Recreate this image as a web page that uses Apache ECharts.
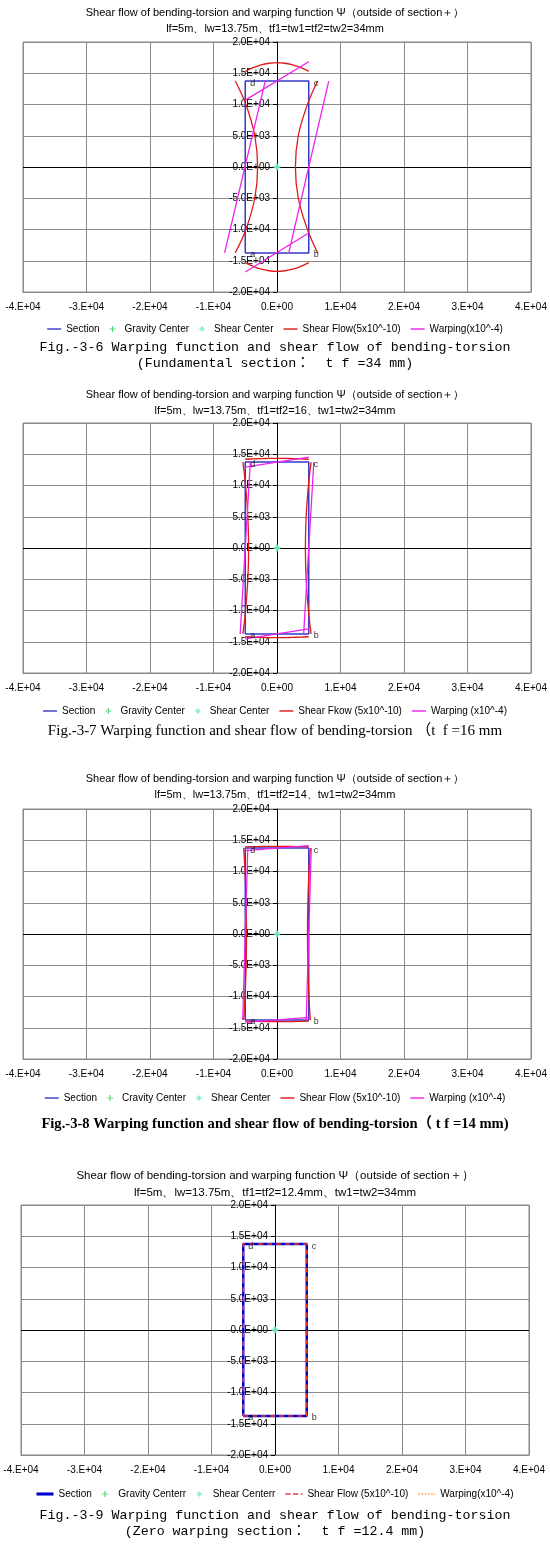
<!DOCTYPE html>
<html><head><meta charset="utf-8">
<script src="https://cdn.jsdelivr.net/npm/echarts@6/dist/echarts.min.js"></script>
<style>html,body{margin:0;padding:0;background:#fff}#c{width:550px;height:1560px}</style>
</head><body><div id="c"></div>
<script>
// ---------- axes ----------
const xMin = -40000, xMax = 40000, xStep = 10000;
const yMin = -20000, yMax = 20000, yStep = 5000;
const xTickLabels = ['-4.E+04','-3.E+04','-2.E+04','-1.E+04','0.E+00','1.E+04','2.E+04','3.E+04','4.E+04'];
const yTickLabels = ['-2.0E+04','-1.5E+04','-1.0E+04','-5.0E+03','0.0E+00','5.0E+03','1.0E+04','1.5E+04','2.0E+04'];

// ---------- section (same for all figures) ----------
const sectionX = [-5000, 5000, 5000, -5000, -5000];
const sectionY = [-13750, -13750, 13750, 13750, -13750];
const cornerLabels = ['a', 'b', 'c', 'd'];
const cornerX = [-5000, 5000, 5000, -5000];
const cornerY = [-13750, -13750, 13750, 13750];
const gravityX = [0], gravityY = [0];
const shearCX = [0], shearCY = [0];

// sample positions along flanges (x) and webs (y)
const flangeX = [-5000, -3750, -2500, -1250, 0, 1250, 2500, 3750, 5000];
const webY = [-13750, -10000, -5000, 0, 5000, 10000, 13750];
const lineFlangeX = [-5000, 5000];
const lineWebY = [-13750, 13750];

// ---------- Fig 3-6 (tf = 34) ----------
const sf1Top    = [15300, 15900, 16350, 16600, 16700, 16600, 16350, 15900, 15300];
const sf1Bottom = [-15300, -15900, -16350, -16600, -16700, -16600, -16350, -15900, -15300];
const sf1Left   = [-6580, -4900, -3500, -3050, -3500, -4900, -6580];
const sf1Right  = [6400, 4800, 3350, 2900, 3350, 4800, 6400];
const wp1Top    = [10700, 16850];
const wp1Bottom = [-16800, -10550];
const wp1Left   = [-8250, -1850];
const wp1Right  = [1850, 8150];

// ---------- Fig 3-7 (tf = 16) ----------
const sf2Top    = [14200, 14260, 14300, 14330, 14340, 14330, 14300, 14260, 14200];
const sf2Bottom = [-14200, -14260, -14300, -14330, -14340, -14330, -14300, -14260, -14200];
const sf2Left   = [-5370, -4950, -4590, -4470, -4590, -4950, -5370];
const sf2Right  = [5370, 4950, 4590, 4470, 4590, 4950, 5370];
const wp2Top    = [12950, 14550];
const wp2Bottom = [-14550, -12950];
const wp2Left   = [-5800, -4200];
const wp2Right  = [4200, 5800];

// ---------- Fig 3-8 (tf = 14) ----------
const sf3Top    = [13950, 13980, 14000, 14010, 14020, 14010, 14000, 13980, 13950];
const sf3Bottom = [-13950, -13980, -14000, -14010, -14020, -14010, -14000, -13980, -13950];
const sf3Left   = [-5250, -5030, -4860, -4800, -4860, -5030, -5250];
const sf3Right  = [5250, 5030, 4860, 4800, 4860, 5030, 5250];
const wp3Top    = [13350, 14150];
const wp3Bottom = [-14150, -13350];
const wp3Left   = [-5400, -4600];
const wp3Right  = [4600, 5400];

// ---------- Fig 3-9 (tf = 12.4, zero warping) ----------
const sf4X = [-5000, 5000, 5000, -5000, -5000];
const sf4Y = [-13750, -13750, 13750, 13750, -13750];
const wp4X = [-5000, 5000, 5000, -5000, -5000];
const wp4Y = [-13750, -13750, 13750, 13750, -13750];

// ---------- texts ----------
const titleMain = 'Shear flow of bending-torsion and warping function Ψ（outside of section＋）';
const subTitles = [
  'lf=5m、lw=13.75m、tf1=tw1=tf2=tw2=34mm',
  'lf=5m、lw=13.75m、tf1=tf2=16、tw1=tw2=34mm',
  'lf=5m、lw=13.75m、tf1=tf2=14、tw1=tw2=34mm',
  'lf=5m、lw=13.75m、tf1=tf2=12.4mm、tw1=tw2=34mm'
];
const captions = [
  'Fig.-3-6 Warping function and shear flow of bending-torsion\n(Fundamental section：  t f =34 mm)',
  'Fig.-3-7 Warping function and shear flow of bending-torsion （t  f =16 mm',
  'Fig.-3-8 Warping function and shear flow of bending-torsion（ t f =14 mm)',
  'Fig.-3-9 Warping function and shear flow of bending-torsion\n(Zero warping section：  t f =12.4 mm)'
];
const legendNames = [
  ['Section', 'Gravity Center', 'Shear Center', 'Shear Flow(5x10^-10)', 'Warping(x10^-4)'],
  ['Section', 'Gravity Center', 'Shear Center', 'Shear Fkow (5x10^-10)', 'Warping (x10^-4)'],
  ['Section', 'Cravity Center', 'Shear Center', 'Shear Flow (5x10^-10)', 'Warping (x10^-4)'],
  ['Section', 'Gravity Centerr', 'Shear Centerr', 'Shear Flow (5x10^-10)', 'Warping(x10^-4)']
];

// ---------- layout ----------
const layout = [
  {gl: 23, gt: 42,   title: 7,    legend: 324,  cap: 339, capFont: 'mono'},
  {gl: 23, gt: 423,  title: 389,  legend: 706,  cap: 723, capFont: 'serif'},
  {gl: 23, gt: 809,  title: 773,  legend: 1093, cap: 1116, capFont: 'serifb'},
  {gl: 21, gt: 1205, title: 1170, legend: 1489, cap: 1507, capFont: 'mono'}
];
const GW = 508, GH = 250;

function pairs(xs, ys) { return xs.map((x, i) => [x, ys[i]]); }
function joinSegs(list) {
  const out = [];
  list.forEach((s, i) => { if (i) out.push(['-', '-']); s.forEach(p => out.push(p)); });
  return out;
}
const sfData = [
  joinSegs([pairs(flangeX, sf1Top), pairs(sf1Right, webY), pairs(flangeX, sf1Bottom), pairs(sf1Left, webY)]),
  joinSegs([pairs(flangeX, sf2Top), pairs(sf2Right, webY), pairs(flangeX, sf2Bottom), pairs(sf2Left, webY)]),
  joinSegs([pairs(flangeX, sf3Top), pairs(sf3Right, webY), pairs(flangeX, sf3Bottom), pairs(sf3Left, webY)]),
  pairs(sf4X, sf4Y)
];
const wpData = [
  joinSegs([pairs(lineFlangeX, wp1Top), pairs(wp1Right, lineWebY), pairs(lineFlangeX, wp1Bottom), pairs(wp1Left, lineWebY)]),
  joinSegs([pairs(lineFlangeX, wp2Top), pairs(wp2Right, lineWebY), pairs(lineFlangeX, wp2Bottom), pairs(wp2Left, lineWebY)]),
  joinSegs([pairs(lineFlangeX, wp3Top), pairs(wp3Right, lineWebY), pairs(lineFlangeX, wp3Bottom), pairs(wp3Left, lineWebY)]),
  pairs(wp4X, wp4Y)
];

const SANS = '"Liberation Sans", Arial, sans-serif';
const MONO = '"Liberation Mono", "DejaVu Sans Mono", "Noto Sans CJK JP", monospace';
const SERIF = '"Liberation Serif", "DejaVu Serif", "Noto Sans CJK JP", serif';
const plusPath = 'path://M4,0H6V4H10V6H6V10H4V6H0V4H4Z';
const diamondPath = 'path://M5,0L10,5L5,10L0,5Z';
const lineIcon = 'path://M0,0H20V2H0Z';
const thickLineIcon = 'path://M0,0H20V3.6H0Z';
const dashIcon = 'path://M0,0H6V2H0Z M9,0H15V2H9Z M18,0H20V2H18Z';
const dotIcon = 'path://M0,0H2V2H0Z M4,0H6V2H4Z M8,0H10V2H8Z M12,0H14V2H12Z M16,0H18V2H16Z M20,0H21V2H20Z';

const grids = [], xAxes = [], yAxes = [], titles = [], legends = [], series = [];
layout.forEach((L, i) => {
  const thick = i === 3;
  grids.push({left: L.gl, top: L.gt, width: GW, height: GH, containLabel: false, outerBoundsMode: 'none',
    show: true, borderColor: '#8a8a8a', borderWidth: 1, backgroundColor: '#fff'});
  xAxes.push({
    type: 'value', gridIndex: i, min: xMin, max: xMax, interval: xStep,
    axisLine: {onZero: false, lineStyle: {color: '#8a8a8a'}},
    axisTick: {show: false},
    axisLabel: {fontSize: 10, color: '#000', fontFamily: SANS, margin: 10, showMinLabel: true, showMaxLabel: true,
      formatter: v => xTickLabels[Math.round((v - xMin) / xStep)]},
    splitLine: {lineStyle: {color: '#8a8a8a', width: 1}}
  });
  yAxes.push({
    type: 'value', gridIndex: i, min: yMin, max: yMax, interval: yStep, position: 'left', offset: -GW / 2,
    axisLine: {onZero: false, lineStyle: {color: '#000', width: 1}},
    axisTick: {show: true, length: 4, lineStyle: {color: '#000'}},
    axisLabel: {fontSize: 10, color: '#000', fontFamily: SANS, margin: 7, showMinLabel: true, showMaxLabel: true,
      formatter: v => yTickLabels[Math.round((v - yMin) / yStep)]},
    splitLine: {lineStyle: {color: '#8a8a8a', width: 1}}
  });
  titles.push({
    text: titleMain, subtext: subTitles[i], left: 'center', top: L.title, padding: 0, itemGap: 5,
    textStyle: {fontSize: thick ? 11.5 : 11, fontWeight: 'normal', color: '#000', fontFamily: SANS},
    subtextStyle: {fontSize: thick ? 11.5 : 11, color: '#000', fontFamily: SANS}
  });
  let capStyle;
  if (L.capFont === 'mono') capStyle = {fontSize: 13.3, fontFamily: MONO, fontWeight: 'normal', color: '#000', lineHeight: 16};
  else if (L.capFont === 'serif') capStyle = {fontSize: 15, fontFamily: SERIF, fontWeight: 'normal', color: '#000', lineHeight: 16};
  else capStyle = {fontSize: 14.6, fontFamily: SERIF, fontWeight: 'bold', color: '#000', lineHeight: 16};
  titles.push({text: captions[i], left: 'center', top: L.cap, padding: 0, textStyle: capStyle});

  const names = legendNames[i].map(n => n + '#' + i);
  legends.push({
    top: L.legend, left: 'center', itemGap: 10, itemWidth: thick ? 17 : 14, itemHeight: 6, padding: 0,
    textStyle: {fontSize: 10, color: '#000', fontFamily: SANS},
    formatter: n => n.replace(/#\d$/, ''),
    data: [
      {name: names[0], icon: thick ? thickLineIcon : lineIcon},
      {name: names[1], icon: plusPath},
      {name: names[2], icon: diamondPath},
      {name: names[3], icon: thick ? dashIcon : lineIcon},
      {name: names[4], icon: thick ? dotIcon : lineIcon}
    ]
  });

  const secColor = thick ? '#0000cc' : '#3838c8';
  series.push({
    name: names[0], type: 'line', xAxisIndex: i, yAxisIndex: i, data: pairs(sectionX, sectionY),
    symbol: 'none', color: secColor, lineStyle: {color: secColor, width: thick ? 2.5 : 1.5}, z: 3,
    markLine: {silent: true, symbol: ['none', 'none'], label: {show: false},
      lineStyle: {color: '#000', width: 1, type: 'solid'}, data: [{yAxis: 0}], z: 2}
  });
  series.push({
    name: names[3], type: 'line', xAxisIndex: i, yAxisIndex: i, data: sfData[i], connectNulls: false,
    symbol: 'none', smooth: thick ? false : 0.4, color: thick ? '#ee3a3a' : '#e01818',
    lineStyle: {color: thick ? '#ee3a3a' : '#e01818', width: thick ? 1.6 : 1.3, type: thick ? [5, 4] : 'solid'}, z: 4
  });
  series.push({
    name: names[4], type: 'line', xAxisIndex: i, yAxisIndex: i, data: wpData[i], connectNulls: false,
    symbol: 'none', color: thick ? '#ffa040' : '#ee22ee',
    lineStyle: {color: thick ? '#ffa040' : '#ee22ee', width: thick ? 1.4 : 1.3, type: thick ? [2, 2] : 'solid'},
    z: thick ? 2 : 5
  });
  series.push({
    name: names[1], type: 'scatter', xAxisIndex: i, yAxisIndex: i, data: pairs(gravityX, gravityY),
    symbol: plusPath, symbolSize: 7, color: '#30d060', z: 6
  });
  series.push({
    name: names[2], type: 'scatter', xAxisIndex: i, yAxisIndex: i, data: pairs(shearCX, shearCY),
    symbol: 'diamond', symbolSize: 7, color: '#80eec8', z: 7
  });
  series.push({
    name: 'corners' + i, type: 'scatter', xAxisIndex: i, yAxisIndex: i, data: pairs(cornerX, cornerY),
    symbolSize: 0, silent: true, z: 8,
    label: {show: true, position: 'right', distance: 5, offset: [0, 2], fontSize: 9, color: '#000', fontFamily: SANS,
      formatter: p => cornerLabels[p.dataIndex]}
  });
});

const chart = echarts.init(document.getElementById('c'), null, {renderer: 'canvas'});
chart.setOption({
  animation: false,
  backgroundColor: '#fff',
  title: titles, grid: grids, xAxis: xAxes, yAxis: yAxes, legend: legends, series: series
});
</script></body></html>
